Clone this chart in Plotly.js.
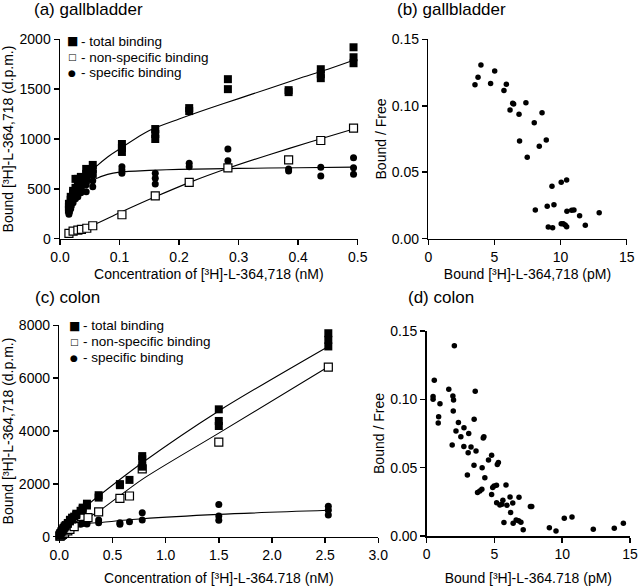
<!DOCTYPE html>
<html>
<head>
<meta charset="utf-8">
<script src="https://cdn.plot.ly/plotly-3.0.1.min.js"></script>
<style>html,body{margin:0;padding:0;background:#fff;}#chart{width:640px;height:586px;}</style>
</head>
<body>
<div id="chart"></div>
<script>
// ---------- Panel (a) gallbladder: saturation ----------
const aTotalX = [0.015,0.015,0.015,0.018,0.018,0.018,0.022,0.022,0.022,0.026,0.026,0.026,0.030,0.030,0.030,0.035,0.035,0.035,0.044,0.044,0.044,0.055,0.055,0.055,0.104,0.104,0.104,0.160,0.160,0.160,0.217,0.217,0.282,0.282,0.384,0.384,0.438,0.438,0.438,0.493,0.493,0.493];
const aTotalY = [290,320,350,350,390,420,420,460,480,470,510,600,500,540,600,540,580,620,600,650,700,650,700,740,870,910,950,1000,1050,1100,1280,1310,1500,1600,1470,1490,1610,1650,1700,1760,1820,1920];
const aNonX = [0.015,0.022,0.030,0.036,0.045,0.055,0.104,0.160,0.217,0.282,0.384,0.438,0.493];
const aNonY = [54,75,87,94,105,130,240,430,565,710,790,985,1110];
const aSpecX = [0.015,0.015,0.015,0.018,0.018,0.018,0.022,0.022,0.022,0.026,0.026,0.026,0.030,0.030,0.030,0.035,0.035,0.035,0.044,0.044,0.044,0.055,0.055,0.055,0.104,0.104,0.104,0.160,0.160,0.160,0.217,0.217,0.282,0.282,0.384,0.384,0.438,0.438,0.493,0.493,0.493];
const aSpecY = [245,280,310,300,340,380,360,400,430,400,440,480,420,470,520,460,500,560,471,540,600,522,580,640,656,690,722,549,606,656,722,756,782,900,680,700,629,716,646,712,812];
// fitted curves
const aTotalFitX = [0.015,0.02,0.03,0.04,0.05,0.06,0.08,0.1,0.15,0.2,0.25,0.3,0.35,0.4,0.45,0.493];
const aTotalFitY = [300,380,500,590,660,720,820,900,1085,1200,1305,1405,1505,1605,1700,1790];
const aNonFitX = [0.015,0.055,0.1,0.16,0.22,0.282,0.35,0.42,0.493];
const aNonFitY = [50,135,260,420,570,706,840,970,1100];
const aSpecFitX = [0.015,0.02,0.03,0.04,0.05,0.06,0.08,0.1,0.15,0.2,0.3,0.4,0.493];
const aSpecFitY = [250,330,440,510,560,600,645,668,685,695,705,712,718];

// ---------- Panel (b) gallbladder: Scatchard ----------
const bX = [3.53,3.76,3.98,4.71,5.02,5.72,5.90,6.18,6.38,6.45,6.86,7.38,8.01,8.60,6.90,8.92,8.39,7.48,9.35,10.05,10.46,8.09,8.99,9.50,10.48,10.84,11.01,11.44,12.92,9.07,9.40,10.05,10.20,10.35,10.46,11.87];
const bY = [0.1159,0.1214,0.1307,0.1167,0.1262,0.1114,0.1162,0.0968,0.1019,0.1013,0.0936,0.1023,0.0873,0.0948,0.0735,0.0743,0.0695,0.0612,0.0394,0.0424,0.0441,0.0216,0.0244,0.0256,0.0206,0.0214,0.0216,0.0173,0.0196,0.0088,0.0083,0.0113,0.0113,0.0103,0.0090,0.0101];

// ---------- Panel (c) colon: saturation ----------
const cTotalX = [0.005,0.005,0.01,0.01,0.02,0.02,0.03,0.03,0.04,0.04,0.05,0.05,0.06,0.06,0.08,0.08,0.10,0.10,0.12,0.12,0.14,0.16,0.16,0.20,0.22,0.22,0.26,0.26,0.37,0.37,0.57,0.57,0.66,0.78,0.78,0.78,1.50,1.50,1.50,2.53,2.53,2.53];
const cTotalY = [60,90,100,140,170,210,230,270,300,330,350,390,400,440,480,520,580,640,650,720,760,820,870,980,1050,1100,1180,1250,1480,1570,1950,1990,2150,2650,2930,3050,4190,4380,4820,7200,7450,7700];
const cNonX = [0.005,0.01,0.02,0.03,0.05,0.08,0.10,0.14,0.21,0.27,0.37,0.57,0.66,0.78,1.50,2.53];
const cNonY = [20,30,60,90,140,220,280,380,770,720,940,1450,1540,2570,3580,6420];
const cSpecX = [0.005,0.01,0.01,0.02,0.02,0.03,0.03,0.04,0.05,0.05,0.06,0.08,0.08,0.10,0.10,0.12,0.14,0.16,0.20,0.22,0.26,0.26,0.37,0.37,0.57,0.57,0.66,0.78,0.78,1.50,1.50,1.50,2.53,2.53,2.53];
const cSpecY = [50,80,110,130,170,190,220,240,260,290,300,330,360,380,410,420,440,460,470,500,480,530,530,630,470,530,570,630,910,620,780,1220,820,1000,1150];
const cTotalFitX = [0,0.02,0.05,0.1,0.2,0.37,0.78,1.5,2.53];
const cTotalFitY = [0,150,330,600,980,1540,2800,4760,7200];
const cNonFitX = [0,0.1,0.2,0.37,0.78,1.5,2.53];
const cNonFitY = [0,280,560,960,2170,3920,6430];
const cSpecFitX = [0,0.02,0.05,0.1,0.2,0.37,0.78,1.5,2.53];
const cSpecFitY = [0,130,250,380,470,535,680,845,1000];

// ---------- Panel (d) colon: Scatchard ----------
const dX = [0.56,0.47,0.47,0.98,0.88,0.85,1.63,2.04,1.96,1.93,1.98,1.88,2.16,2.34,2.52,2.75,2.74,3.10,3.06,3.27,3.00,3.50,3.58,3.64,3.49,3.75,3.92,4.07,4.17,4.22,4.09,4.29,4.56,4.79,4.79,4.87,4.97,5.15,5.21,5.29,5.16,5.40,5.55,5.62,5.85,5.92,6.15,6.19,6.35,6.81,5.70,6.38,6.60,6.78,6.95,7.12,7.65,7.75,9.05,9.54,10.15,10.72,12.29,13.84,14.51];
const dY = [0.1140,0.1020,0.1000,0.0967,0.0873,0.0826,0.1073,0.1392,0.0915,0.1024,0.0995,0.0665,0.0768,0.0831,0.0727,0.0792,0.0654,0.0750,0.0610,0.0652,0.0446,0.0855,0.1060,0.0622,0.0518,0.0318,0.0330,0.0342,0.0717,0.0727,0.0500,0.0427,0.0556,0.0591,0.0303,0.0354,0.0366,0.0371,0.0524,0.0537,0.0244,0.0226,0.0232,0.0262,0.0373,0.0225,0.0285,0.0172,0.0242,0.0284,0.0099,0.0093,0.0117,0.0112,0.0100,0.0045,0.0215,0.0216,0.0061,0.0037,0.0129,0.0139,0.0049,0.0056,0.0093];

// ---------- tick labels ----------
const aXTicks = [0,0.1,0.2,0.3,0.4,0.5], aXText = ['0.0','0.1','0.2','0.3','0.4','0.5'];
const aYTicks = [0,500,1000,1500,2000];
const sXTicks = [0,5,10,15];
const sYTicks = [0,0.05,0.10,0.15], sYText = ['0.00','0.05','0.10','0.15'];
const cXTicks = [0,0.5,1,1.5,2,2.5,3], cXText = ['0.0','0.5','1.0','1.5','2.0','2.5','3.0'];
const cYTicks = [0,2000,4000,6000,8000];

const legendNames = ['- total binding','- non-specific binding','- specific binding'];
const legendSymbols = ['\u25A0','\u25A1','\u25CF'];
const legendSymbolSizes = [12, 9, 9];

const FONT = 'Liberation Sans, Arial, Helvetica, sans-serif';
const W = 640, H = 586;
const px = v => v / W;
const py = v => 1 - v / H;

function fitLine(x, y, xa, ya) {
  return {x: x, y: y, xaxis: xa, yaxis: ya, mode: 'lines', type: 'scatter',
    line: {color: '#000', width: 1.1, shape: 'spline', smoothing: 0.8},
    hoverinfo: 'skip', showlegend: false, cliponaxis: false};
}
function filledSq(x, y, xa, ya) {
  return {x: x, y: y, xaxis: xa, yaxis: ya, mode: 'markers', type: 'scatter', name: 'total binding',
    marker: {symbol: 'square', size: 8, color: '#000'}, showlegend: false, cliponaxis: false};
}
function openSq(x, y, xa, ya) {
  return {x: x, y: y, xaxis: xa, yaxis: ya, mode: 'markers', type: 'scatter', name: 'non-specific binding',
    marker: {symbol: 'square', size: 8, color: '#fff', line: {color: '#000', width: 1.2}}, showlegend: false, cliponaxis: false};
}
function dots(x, y, xa, ya, size, name) {
  return {x: x, y: y, xaxis: xa, yaxis: ya, mode: 'markers', type: 'scatter', name: name,
    marker: {symbol: 'circle', size: size, color: '#000'}, showlegend: false, cliponaxis: false};
}

const traces = [
  fitLine(aTotalFitX, aTotalFitY, 'x', 'y'),
  fitLine(aNonFitX, aNonFitY, 'x', 'y'),
  fitLine(aSpecFitX, aSpecFitY, 'x', 'y'),
  dots(aSpecX, aSpecY, 'x', 'y', 7, 'specific binding'),
  openSq(aNonX, aNonY, 'x', 'y'),
  filledSq(aTotalX, aTotalY, 'x', 'y'),
  dots(bX, bY, 'x2', 'y2', 5.5, 'Bound / Free'),
  fitLine(cTotalFitX, cTotalFitY, 'x3', 'y3'),
  fitLine(cNonFitX, cNonFitY, 'x3', 'y3'),
  fitLine(cSpecFitX, cSpecFitY, 'x3', 'y3'),
  dots(cSpecX, cSpecY, 'x3', 'y3', 7, 'specific binding'),
  openSq(cNonX, cNonY, 'x3', 'y3'),
  filledSq(cTotalX, cTotalY, 'x3', 'y3'),
  dots(dX, dY, 'x4', 'y4', 5.5, 'Bound / Free')
];

function axis(extra) {
  return Object.assign({
    showgrid: false, zeroline: false, showline: true, linecolor: '#000', linewidth: 1.5,
    ticks: 'outside', ticklen: 5, tickwidth: 1.5, tickcolor: '#000',
    tickfont: {family: FONT, size: 14, color: '#000'}, fixedrange: true
  }, extra);
}
function ttl(text, standoff) {
  return {text: text, standoff: standoff, font: {family: FONT, size: 14, color: '#000'}};
}

const layout = {
  width: W, height: H,
  margin: {l: 0, r: 0, t: 0, b: 0},
  paper_bgcolor: '#fff', plot_bgcolor: '#fff',
  showlegend: false,
  font: {family: FONT, color: '#000', size: 14},
  xaxis: axis({domain: [px(60), px(357.7)], anchor: 'y', range: [0, 0.5], tickvals: aXTicks, ticktext: aXText,
    title: ttl('Concentration of [\u00B3H]-L-364,718 (nM)', 5)}),
  yaxis: axis({domain: [py(238.7), py(39.3)], anchor: 'x', range: [0, 2000], tickvals: aYTicks,
    title: ttl('Bound [\u00B3H]-L-364,718 (d.p.m.)', 6)}),
  xaxis2: axis({domain: [px(428.3), px(626.7)], anchor: 'y2', range: [0, 15], tickvals: sXTicks,
    title: ttl('Bound [\u00B3H]-L-364,718 (pM)', 5)}),
  yaxis2: axis({domain: [py(238.7), py(39.3)], anchor: 'x2', range: [0, 0.15], tickvals: sYTicks, ticktext: sYText,
    title: ttl('Bound / Free', 2)}),
  xaxis3: axis({domain: [px(59.3), px(378.3)], anchor: 'y3', range: [0, 3], tickvals: cXTicks, ticktext: cXText,
    title: ttl('Concentration of [\u00B3H]-L-364.718 (nM)', 12)}),
  yaxis3: axis({domain: [py(536.7), py(325.3)], anchor: 'x3', range: [0, 8000], tickvals: cYTicks,
    title: ttl('Bound [\u00B3H]-L-364,718 (d.p.m.)', 6)}),
  xaxis4: axis({domain: [px(426.7), px(630)], anchor: 'y4', range: [0, 15], tickvals: sXTicks,
    title: ttl('Bound [\u00B3H]-L-364.718 (pM)', 12)}),
  yaxis4: axis({domain: [py(536), py(331)], anchor: 'x4', range: [0, 0.15], tickvals: sYTicks, ticktext: sYText,
    title: ttl('Bound / Free', 2)}),
  annotations: []
};

// panel titles
const panelTitles = [
  {text: '(a) gallbladder', x: 32, y: 9.5},
  {text: '(b) gallbladder', x: 395, y: 9.5},
  {text: '(c) colon', x: 33, y: 297},
  {text: '(d) colon', x: 406, y: 297}
];
panelTitles.forEach(t => layout.annotations.push({
  xref: 'paper', yref: 'paper', x: px(t.x), y: py(t.y), xanchor: 'left', yanchor: 'middle',
  text: t.text, showarrow: false, font: {family: FONT, size: 17, color: '#000'}
}));

// in-plot keys
const keys = [
  {sx: 72, tx: 79.5, rows: [41, 57, 73]},
  {sx: 74, tx: 81.5, rows: [325.5, 341.5, 357.5]}
];
keys.forEach(k => {
  k.rows.forEach((r, i) => {
    layout.annotations.push({xref: 'paper', yref: 'paper', x: px(k.sx), y: py(r), xanchor: 'center', yanchor: 'middle',
      text: legendSymbols[i], showarrow: false, borderpad: 0,
      font: {family: 'DejaVu Sans, sans-serif', size: legendSymbolSizes[i], color: '#000'}});
    layout.annotations.push({xref: 'paper', yref: 'paper', x: px(k.tx), y: py(r), xanchor: 'left', yanchor: 'middle',
      text: legendNames[i], showarrow: false, borderpad: 0,
      font: {family: FONT, size: 13.5, color: '#000'}});
  });
});

Plotly.newPlot('chart', traces, layout, {displayModeBar: false, staticPlot: true});
</script>
</body>
</html>
